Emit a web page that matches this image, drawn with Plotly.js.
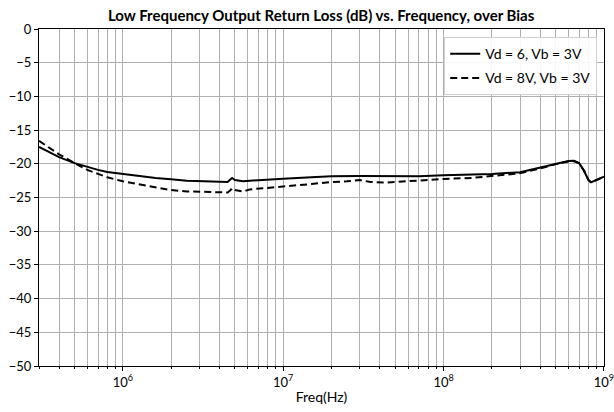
<!DOCTYPE html>
<html>
<head>
<meta charset="utf-8">
<script src="https://cdn.plot.ly/plotly-3.0.1.min.js"></script>
<style>html,body{margin:0;padding:0;background:#fff}#chart{width:614px;height:412px}</style>
</head>
<body>
<div id="chart"></div>
<script>
const freqSolid = [3e5,4e5,5e5,6e5,7e5,8e5,1e6,1.3e6,1.6e6,2e6,2.5e6,3.2e6,4e6,4.5e6,4.7e6,4.8e6,5e6,5.6e6,6.2e6,7e6,8e6,1e7,1.5e7,2e7,3e7,4e7,5e7,7e7,1e8,1.5e8,2e8,3e8,4e8,5e8,6e8,6.5e8,7e8,7.5e8,8e8,8.3e8,9e8,1e9];
const rlSolid = [-17.5,-19.0,-19.9,-20.5,-20.9,-21.2,-21.5,-21.85,-22.1,-22.3,-22.5,-22.6,-22.7,-22.7,-22.3,-22.1,-22.4,-22.6,-22.5,-22.4,-22.35,-22.2,-22.0,-21.85,-21.8,-21.85,-21.9,-21.85,-21.7,-21.6,-21.5,-21.25,-20.6,-20.0,-19.6,-19.55,-19.9,-21.0,-22.4,-22.75,-22.4,-21.9];
const freqDashed = [3e5,4e5,5e5,6e5,7e5,8e5,1e6,1.3e6,1.6e6,2e6,2.5e6,3.2e6,4e6,4.5e6,4.7e6,4.8e6,5e6,5.6e6,6.2e6,7e6,8e6,1e7,1.5e7,2e7,2.5e7,3e7,3.5e7,4.3e7,5.3e7,7e7,1e8,1.5e8,2e8,3e8,4e8,5e8,6e8,6.5e8,7e8,7.5e8,8e8,8.3e8,9e8,1e9];
const rlDashed = [-16.6,-18.6,-19.9,-20.9,-21.5,-22.0,-22.6,-23.05,-23.5,-23.9,-24.1,-24.2,-24.25,-24.25,-23.9,-23.6,-23.9,-24.1,-23.8,-23.7,-23.6,-23.35,-23.0,-22.7,-22.6,-22.4,-22.7,-22.8,-22.65,-22.5,-22.25,-22.1,-21.85,-21.4,-20.7,-20.05,-19.65,-19.6,-19.95,-21.0,-22.4,-22.75,-22.4,-21.9];
const seriesNames = ['Vd = 6, Vb = 3V','Vd = 8V, Vb = 3V'];
const titleText = 'Low Frequency Output Return Loss (dB) vs. Frequency, over Bias';
const xTitle = 'Freq(Hz)';
const xTickVals = [1e6, 1e7, 1e8, 1e9];
const xTickText = ['10<sup>6</sup>', '10<sup>7</sup>', '10<sup>8</sup>', '10<sup>9</sup>'];

const fontFam = 'Lato, "Open Sans", sans-serif';
const traces = [
  {x: freqSolid, y: rlSolid, name: seriesNames[0], legendgroup: 'a', mode: 'lines', line: {color: '#000', width: 2}},
  {x: freqDashed, y: rlDashed, name: seriesNames[1], legendgroup: 'b', mode: 'lines', line: {color: '#000', width: 2, dash: '7px,4px'}}
];
const axisCommon = {
  showline: true, linecolor: '#000', linewidth: 1, mirror: true,
  ticks: 'outside', ticklen: 4, tickcolor: '#000',
  gridcolor: '#b0b0b0', gridwidth: 1, zeroline: false,
  tickfont: {family: fontFam, size: 13, color: '#000'}
};
const layout = {
  width: 614, height: 412,
  margin: {l: 39, r: 10, t: 29, b: 46},
  paper_bgcolor: '#fff', plot_bgcolor: '#fff',
  font: {family: fontFam, color: '#000'},
  title: {text: '<b>' + titleText + '</b>', font: {family: fontFam, size: 15, color: '#000'}, x: 0.523, xanchor: 'center', y: 0.975, yanchor: 'top'},
  xaxis: Object.assign({}, axisCommon, {
    type: 'log', range: [Math.log10(3e5), 9.0004], tickmode: 'array', tickvals: xTickVals, ticktext: xTickText,
    ticklabeloverflow: 'allow',
    minor: {ticks: 'outside', ticklen: 2, tickcolor: '#000', showgrid: true, gridcolor: '#b0b0b0', gridwidth: 1, dtick: 'D1'},
    title: {text: xTitle, font: {family: fontFam, size: 14, color: '#000'}, standoff: 3}
  }),
  yaxis: Object.assign({}, axisCommon, {
    range: [-50, 0], dtick: 5
  }),
  legend: {
    x: 0.988, xanchor: 'right', y: 0.976, yanchor: 'top',
    bgcolor: 'rgba(255,255,255,0.9)', bordercolor: '#d0d0d0', borderwidth: 1,
    font: {family: fontFam, size: 14, color: '#000'},
    itemwidth: 30, traceorder: 'grouped', tracegroupgap: 3
  },
  showlegend: true
};
Plotly.newPlot('chart', traces, layout, {displayModeBar: false, staticPlot: true});
</script>
</body>
</html>
